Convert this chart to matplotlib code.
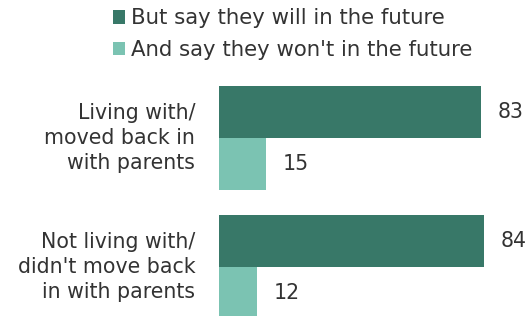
import matplotlib.pyplot as plt

categorias = ["Living with/\nmoved back in\nwith parents",
              "Not living with/\ndidn't move back\nin with parents"]
vai_morar = [83, 84]
nao_vai = [15, 12]
legenda = ["But say they will in the future", "And say they won't in the future"]

cor_escura = '#387868'
cor_clara = '#7bc3b2'
cor_texto = '#333333'

fig = plt.figure(figsize=(5.32, 3.16), dpi=100)
ax = fig.add_axes([219 / 532, 0, 313 / 532, 236 / 316])

h = 0.403
pos = [0, 1]
b1 = ax.barh([p - h / 2 for p in pos], vai_morar, height=h, color=cor_escura, label=legenda[0])
b2 = ax.barh([p + h / 2 for p in pos], nao_vai, height=h, color=cor_clara, label=legenda[1])

for barras in (b1, b2):
    for r in barras:
        ax.text(r.get_width() + 5.2, r.get_y() + r.get_height() / 2, str(int(r.get_width())),
                va='center', ha='left', fontsize=14.8, color=cor_texto)

for p, cat in zip(pos, categorias):
    ax.text(-7.5, p, cat, ha='right', va='center', fontsize=14.8, color=cor_texto,
            linespacing=1.3, clip_on=False)

ax.set_xlim(0, 313 / 3.157)
ax.set_ylim(1 + 49 / 129, -58 / 129)
ax.axis('off')

fig.legend(handles=[b1, b2], labels=legenda, loc='upper left', bbox_to_anchor=(104 / 532, 1.0),
           frameon=False, fontsize=15.3, handlelength=0.6, handleheight=0.6, handletextpad=0.28,
           labelspacing=0.55, labelcolor=cor_texto, borderaxespad=0.0)

plt.savefig('out.png', dpi=100)
